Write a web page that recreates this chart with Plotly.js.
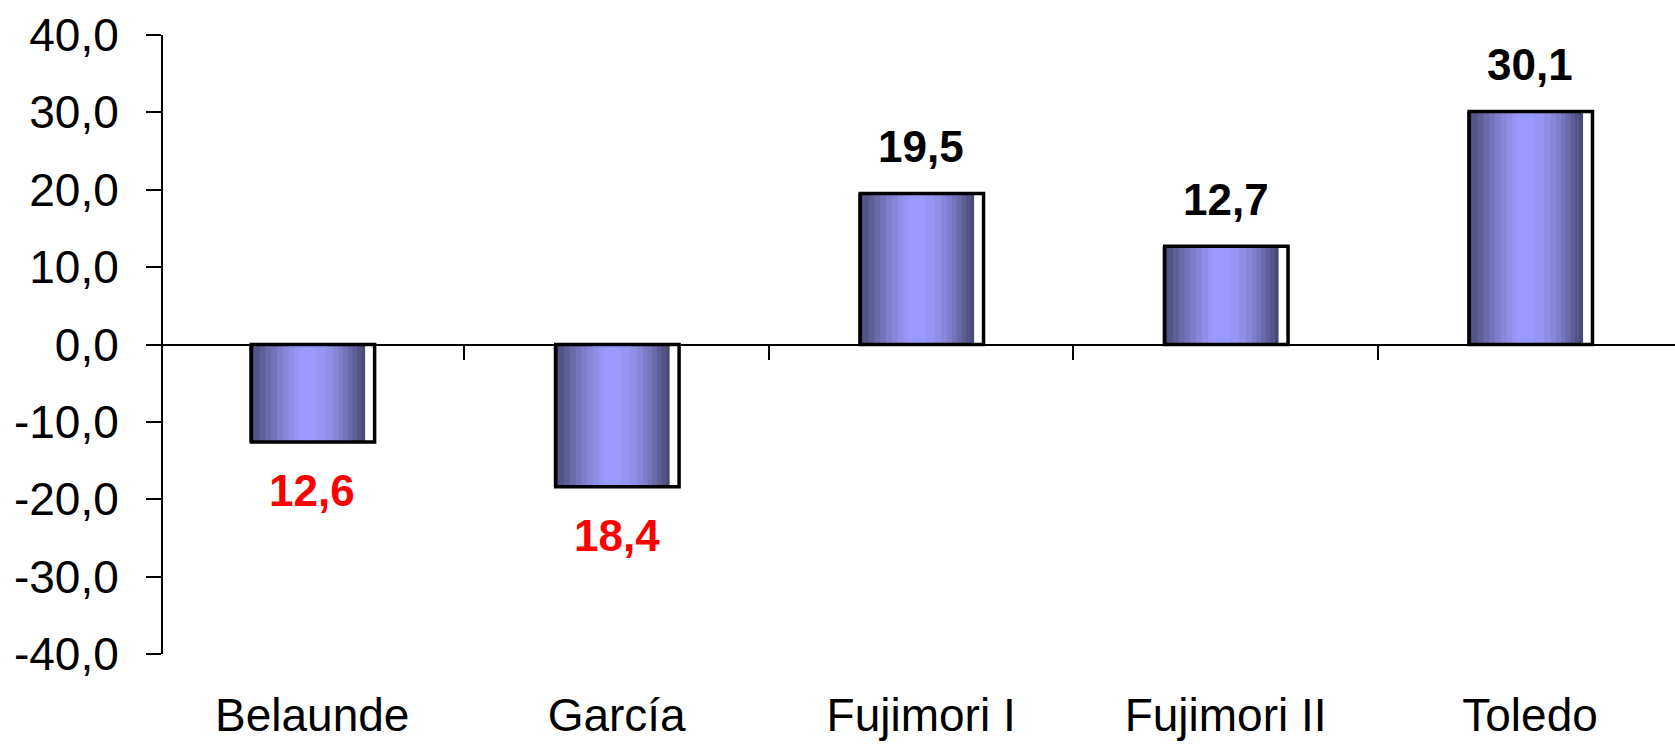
<!DOCTYPE html>
<html>
<head>
<meta charset="utf-8">
<script src="https://cdn.plot.ly/plotly-3.0.1.min.js"></script>
<style>
  html, body { margin: 0; padding: 0; background: #ffffff; }
  #chart { width: 1675px; height: 744px; }
</style>
</head>
<body>
<div id="chart"></div>
<script>
// Variación por periodo de gobierno
const categories = ['Belaunde', 'García', 'Fujimori I', 'Fujimori II', 'Toledo'];
const values = [-12.6, -18.4, 19.5, 12.7, 30.1];
const yTicks = [-40, -30, -20, -10, 0, 10, 20, 30, 40];
const yTickLabels = ['-40,0', '-30,0', '-20,0', '-10,0', '0,0', '10,0', '20,0', '30,0', '40,0'];

const FONT = '"Liberation Sans", Arial, Helvetica, sans-serif';
const xIdx = categories.map((_, i) => i);
const boundaries = xIdx.slice(0, -1).map(i => i + 0.5);
const X_RANGE = [-0.49, 4.476];

// Cylinder shading: nested bands, dark at the edges and light in the middle.
const FILL_LEFT = -0.207;
const FILL_WIDTH = 0.381;
const shadeBands = [
  { from: 0.00, to: 1.00, color: '#4a4a76' },
  { from: 0.04, to: 0.97, color: '#545486' },
  { from: 0.09, to: 0.93, color: '#5f5f98' },
  { from: 0.14, to: 0.89, color: '#6a6aaa' },
  { from: 0.19, to: 0.85, color: '#7474ba' },
  { from: 0.24, to: 0.81, color: '#7e7eca' },
  { from: 0.29, to: 0.77, color: '#8787d9' },
  { from: 0.34, to: 0.72, color: '#8f8fe8' },
  { from: 0.39, to: 0.66, color: '#9595f4' },
  { from: 0.43, to: 0.58, color: '#9999ff' }
];

const traces = shadeBands.map(b => ({
  type: 'bar',
  x: xIdx,
  y: values,
  width: (b.to - b.from) * FILL_WIDTH,
  offset: FILL_LEFT + b.from * FILL_WIDTH,
  marker: { color: b.color, line: { width: 0 } },
  hoverinfo: 'skip',
  showlegend: false
}));

// Black outline drawn over the shaded column
traces.push({
  type: 'bar',
  x: xIdx,
  y: values,
  xaxis: 'x2',
  width: 0.405,
  offset: -0.2,
  marker: { color: 'rgba(0,0,0,0)', line: { color: '#000000', width: 3.5 } },
  hoverinfo: 'skip',
  showlegend: false
});

const fmt = v => Math.abs(v).toFixed(1).replace('.', ',');

const annotations = values.map((v, i) => ({
  x: i,
  y: v,
  xref: 'x',
  yref: 'y',
  text: '<b>' + fmt(v) + '</b>',
  showarrow: false,
  yanchor: 'middle',
  yshift: v >= 0 ? 47 : -49,
  font: { family: FONT, size: 44, color: v < 0 ? '#ff0000' : '#000000' }
}));

const layout = {
  width: 1675,
  height: 744,
  margin: { l: 163, r: 0, t: 35, b: 90, pad: 0 },
  paper_bgcolor: '#ffffff',
  plot_bgcolor: '#ffffff',
  barmode: 'overlay',
  showlegend: false,
  font: { family: FONT, color: '#000000' },
  xaxis: {
    range: X_RANGE,
    tickmode: 'array',
    tickvals: xIdx,
    ticktext: categories,
    ticks: '',
    showline: false,
    showgrid: false,
    zeroline: false,
    ticklabelstandoff: 30,
    tickfont: { family: FONT, size: 46, color: '#000000' }
  },
  xaxis2: {
    overlaying: 'x',
    anchor: 'free',
    position: 0.5,
    side: 'bottom',
    range: X_RANGE,
    tickmode: 'array',
    tickvals: boundaries,
    ticks: 'outside',
    ticklen: 14,
    tickwidth: 2,
    tickcolor: '#000000',
    showticklabels: false,
    showline: false,
    showgrid: false,
    zeroline: false
  },
  yaxis: {
    range: [-40, 40],
    tickmode: 'array',
    tickvals: yTicks,
    ticktext: yTickLabels,
    ticks: 'outside',
    ticklen: 15,
    tickwidth: 2,
    tickcolor: '#000000',
    showline: true,
    linecolor: '#000000',
    linewidth: 2,
    showgrid: false,
    zeroline: true,
    zerolinecolor: '#000000',
    zerolinewidth: 2,
    ticklabelstandoff: 18,
    tickfont: { family: FONT, size: 46, color: '#000000' }
  },
  annotations: annotations
};

Plotly.newPlot('chart', traces, layout, { staticPlot: true, displayModeBar: false });
</script>
</body>
</html>
